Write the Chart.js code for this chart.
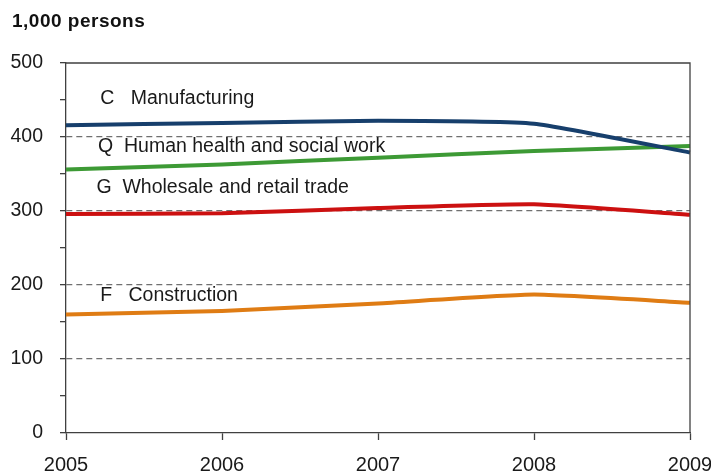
<!DOCTYPE html>
<html>
<head>
<meta charset="utf-8">
<script src="https://cdn.jsdelivr.net/npm/chart.js@4.4.1/dist/chart.umd.min.js"></script>
<style>
  html, body { margin: 0; padding: 0; background: #fff; }
  #wrap { width: 711px; height: 472px; position: relative; }
</style>
</head>
<body>
<div id="wrap"><canvas id="c" width="711" height="472"></canvas></div>
<script>
// Employed persons by industry, thousands
const years = ['2005', '2006', '2007', '2008', '2009'];
const manufacturing = [416, 419, 422, 418, 379];
const healthSocial = [356, 363, 372, 381, 388];
const wholesaleRetail = [296, 297, 304, 309, 295];
const construction = [160, 165, 175, 187, 176];

const seriesNames = [
  'C   Manufacturing',
  'Q  Human health and social work',
  'G  Wholesale and retail trade',
  'F   Construction'
];
// Where each series name sits, in axis units (category index, thousands)
const nameAnchorX = [0.22, 0.205, 0.195, 0.22];
const nameAnchorY = [452, 387, 331, 186];

const colors = ['#173f6c', '#3d9a35', '#cc1010', '#df7c14'];
const FONT = '"Liberation Sans", Arial, sans-serif';

const frameAndNames = {
  id: 'frameAndNames',
  afterDatasetsDraw(chart) {
    const { ctx, chartArea: a, scales: { x, y } } = chart;
    ctx.save();
    // top and right frame lines
    ctx.strokeStyle = '#404040';
    ctx.lineWidth = 1.3;
    ctx.beginPath();
    ctx.moveTo(a.left, a.top);
    ctx.lineTo(a.right, a.top);
    ctx.lineTo(a.right, a.bottom);
    ctx.stroke();
    // series names
    ctx.fillStyle = '#1a1a1a';
    ctx.font = '19.5px ' + FONT;
    ctx.textBaseline = 'middle';
    ctx.textAlign = 'left';
    seriesNames.forEach((name, i) => {
      ctx.fillText(name, x.getPixelForValue(nameAnchorX[i]), y.getPixelForValue(nameAnchorY[i]));
    });
    // unit title
    ctx.font = 'bold 19px ' + FONT;
    ctx.letterSpacing = '0.5px';
    ctx.fillStyle = '#111';
    ctx.fillText('1,000 persons', 12, 22);
    ctx.restore();
  }
};

const mk = (label, data, color) => ({
  label, data,
  borderColor: color,
  backgroundColor: color,
  borderWidth: 4,
  pointRadius: 0,
  tension: 0.15,
  fill: false
});

new Chart(document.getElementById('c'), {
  type: 'line',
  data: {
    labels: years,
    datasets: [
      mk('Manufacturing', manufacturing, colors[0]),
      mk('Human health and social work', healthSocial, colors[1]),
      mk('Wholesale and retail trade', wholesaleRetail, colors[2]),
      mk('Construction', construction, colors[3])
    ]
  },
  options: {
    responsive: false,
    animation: false,
    layout: { autoPadding: false, padding: { top: 63, right: 21, left: 0, bottom: 0 } },
    plugins: { legend: { display: false }, title: { display: false }, tooltip: { enabled: false } },
    scales: {
      x: {
        offset: false,
        grid: { drawOnChartArea: false, drawTicks: true, tickLength: 7, tickColor: '#404040', tickWidth: 1.3 },
        border: { color: '#404040', width: 1.3 },
        ticks: { color: '#1a1a1a', font: { family: FONT, size: 20 }, padding: 13, maxRotation: 0, autoSkip: false },
        afterFit(s) { s.height = 39; s.paddingLeft = 0; s.paddingRight = 0; }
      },
      y: {
        min: 0, max: 500,
        ticks: {
          stepSize: 50,
          color: '#1a1a1a',
          font: { family: FONT, size: 19.5 },
          padding: 17,
          callback: v => (v % 100 === 0 ? String(v) : '')
        },
        grid: {
          tickLength: 6,
          tickColor: '#404040',
          tickWidth: 1.3,
          lineWidth: 1.3,
          color: ctx => {
            const v = ctx.tick && ctx.tick.value;
            return (v % 100 === 0 && v !== 0 && v !== 500) ? '#707070' : 'rgba(0,0,0,0)';
          }
        },
        border: { color: '#404040', width: 1.3, dash: [6, 4] },
        afterFit(s) { s.width = 66; s.paddingTop = 0; s.paddingBottom = 0; }
      }
    }
  },
  plugins: [frameAndNames]
});
</script>
</body>
</html>
